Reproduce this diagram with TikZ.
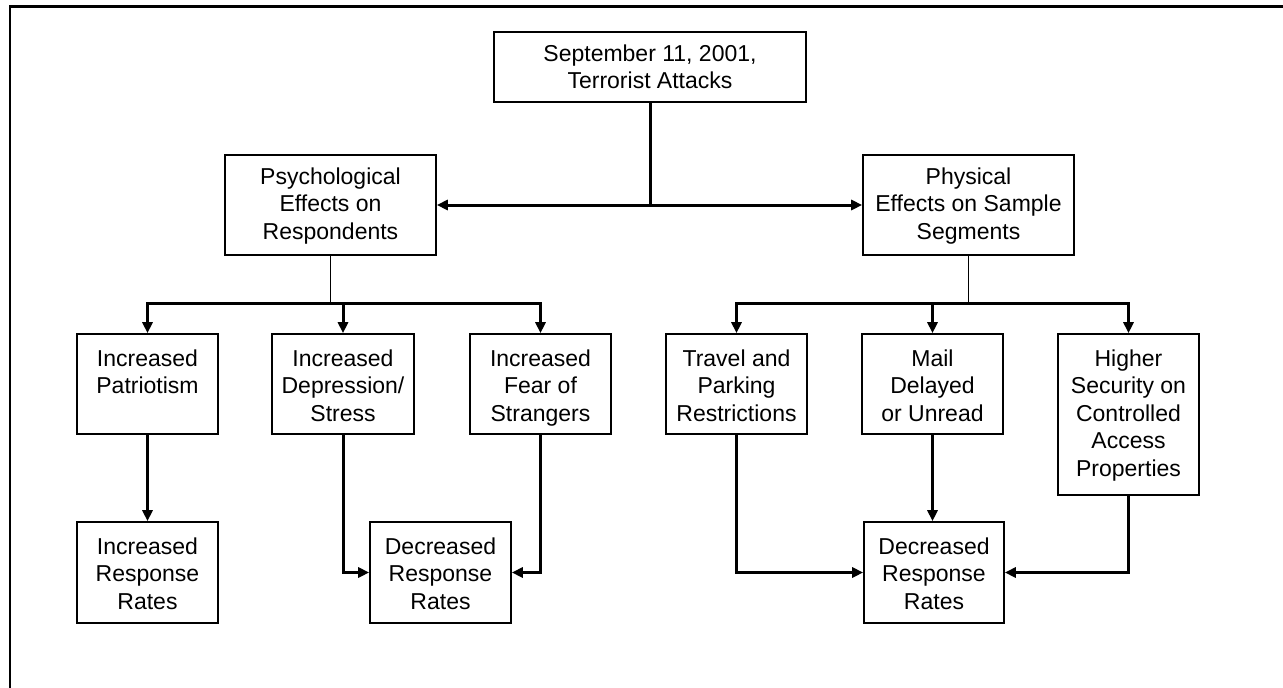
\documentclass[tikz,border=0pt]{standalone}
\usepackage{fontspec}
\setmainfont{Liberation Sans}
\usetikzlibrary{arrows.meta}
\tikzset{
  frameline/.style={line width=2.5pt},
  blockbox/.style={draw, line width=1.6pt, rectangle, inner sep=0pt},
  blocktext/.style={align=center, inner sep=0pt, anchor=north,
    font=\fontsize{23}{27.5}\selectfont},
  conn/.style={line width=3pt},
  tip/.style={-{Triangle[length=11pt,width=10pt]}},
  arr/.style={conn, tip},
  thinconn/.style={line width=1.2pt},
}
% \mkblock{name}{left}{top}{right}{bottom}{first baseline below top}{text}
\newcommand\mkblock[7]{%
  \pgfmathsetmacro\bw{#4-#2}\pgfmathsetmacro\bh{#5-#3}%
  \pgfmathsetmacro\bx{(#2+#4)/2}\pgfmathsetmacro\by{(#3+#5)/2}%
  \pgfmathsetmacro\bt{#6-17}%
  \node[blockbox, minimum width=\bw pt, minimum height=\bh pt] (#1) at (\bx,\by) {};
  \node[blocktext] (#1-text) at ([yshift=-\bt pt]#1.north) {\rule{0pt}{17pt}#7};
}
\begin{document}
\begin{tikzpicture}[x=1pt, y=-1pt]
\useasboundingbox (0,0) rectangle (1283,688);

% page frame (left and top edges)
\draw[frameline] (10,688) -- (10,6.5) -- (1283,6.5);

% blocks
\mkblock{top}{494}{32}{806}{102}{30}{September 11, 2001,\\Terrorist Attacks}
\mkblock{psy}{225}{155}{436}{255}{30}{Psychological\\Effects on\\Respondents}
\mkblock{phy}{863}{155}{1074}{255}{30}{Physical\\Effects on Sample\\Segments}

\mkblock{pat}{77}{334}{218}{434}{33}{Increased\\Patriotism}
\mkblock{dep}{272}{334}{414}{434}{33}{Increased\\Depression/\\Stress}
\mkblock{fear}{470}{334}{611}{434}{33}{Increased\\Fear of\\Strangers}
\mkblock{trav}{666}{334}{807}{434}{33}{Travel and\\Parking\\Restrictions}
\mkblock{mail}{862}{334}{1003}{434}{33}{Mail\\Delayed\\or Unread}
\mkblock{sec}{1058}{334}{1199}{495}{33}{Higher\\Security on\\Controlled\\Access\\Properties}

\mkblock{inc}{77}{522}{218}{623}{33}{Increased\\Response\\Rates}
\mkblock{decL}{370}{522}{511}{623}{33}{Decreased\\Response\\Rates}
\mkblock{decR}{864}{522}{1004}{623}{33}{Decreased\\Response\\Rates}

% top level split
\draw[conn] (top.south) -- (top.south |- psy.east);
\draw[conn, {Triangle[length=11pt,width=10pt]}-{Triangle[length=11pt,width=10pt]}] (psy.east) -- (phy.west);

% psychological branch
\coordinate (psyfork) at (psy.south |- 0,303);
\draw[thinconn] (psy.south) -- (psyfork);
\draw[arr] (psyfork) -| (pat.north);
\draw[arr] (psyfork) -| (fear.north);
\draw[arr] (dep.north |- psyfork) -- (dep.north);

% physical branch
\coordinate (phyfork) at (phy.south |- 0,303);
\draw[thinconn] (phy.south) -- (phyfork);
\draw[arr] (phyfork) -| (trav.north);
\draw[arr] (phyfork) -| (sec.north);
\draw[arr] (mail.north |- phyfork) -- (mail.north);

% outcomes
\draw[arr] (pat.south) -- (inc.north);
\draw[arr] (dep.south) |- (decL.west);
\draw[arr] (fear.south) |- (decL.east);
\draw[arr] (trav.south) |- (decR.west);
\draw[arr] (mail.south) -- (mail.south |- decR.north);
\draw[arr] (sec.south) |- (decR.east);
\end{tikzpicture}
\end{document}
